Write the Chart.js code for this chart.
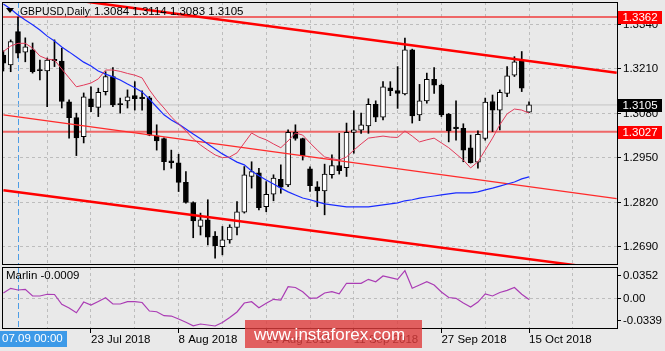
<!DOCTYPE html>
<html>
<head>
<meta charset="utf-8">
<script src="https://cdn.jsdelivr.net/npm/chart.js@4.4.0/dist/chart.umd.min.js"></script>
<style>
    html, body { margin: 0; padding: 0; background: #e9e9e9; }
    #wrap { position: relative; width: 665px; height: 351px; overflow: hidden; background: #e9e9e9; }
    #pricechart { position: absolute; left: 0; top: 0; }
    #marlinchart { position: absolute; left: 0; top: 266px; }
</style>
</head>
<body>
<div id="wrap">
    <canvas id="pricechart" width="665" height="266"></canvas>
    <canvas id="marlinchart" width="665" height="85"></canvas>
</div>
<script>
// GBPUSD daily, 5 Jul 2018 .. 15 Oct 2018 (bar 0 .. 72)
const opens = [1.3251,1.3222,1.3319,1.3259,1.3266,1.3208,1.3204,1.3238,1.3233,1.3114,
    1.3068,1.3012,1.3123,1.3098,1.3144,1.3188,1.3108,1.3117,1.3132,1.3128,
    1.3126,1.3015,1.3007,1.2942,1.2936,1.2879,1.2820,1.2750,1.2769,1.2722,
    1.2691,1.2711,1.2747,1.2792,1.2896,1.2907,1.2808,1.2844,1.2888,1.2871,
    1.3025,1.3007,1.2918,1.2866,1.2854,1.2901,1.2928,1.2922,1.3025,1.3031,
    1.3044,1.3107,1.3069,1.3155,1.3147,1.3137,1.3266,1.3076,1.3117,1.3180,
    1.3163,1.3078,1.3040,1.3037,1.2980,1.2938,1.3007,1.3115,1.3090,1.3139,
    1.3192,1.3233,1.3084];
const highs = [1.3263,1.3295,1.3362,1.3301,1.3286,1.3236,1.3242,1.3295,1.3271,1.3120,
    1.3081,1.3140,1.3158,1.3154,1.3202,1.3214,1.3125,1.3149,1.3173,1.3146,
    1.3130,1.3047,1.3009,1.2973,1.2961,1.2910,1.2822,1.2789,1.2828,1.2735,
    1.2750,1.2755,1.2823,1.2925,1.2939,1.2920,1.2881,1.2901,1.2930,1.3032,
    1.3047,1.3008,1.2924,1.2881,1.2932,1.2959,1.3022,1.3052,1.3088,1.3081,
    1.3123,1.3117,1.3173,1.3173,1.3217,1.3300,1.3268,1.3165,1.3198,1.3214,
    1.3166,1.3080,1.3117,1.3050,1.3017,1.3029,1.3125,1.3134,1.3149,1.3217,
    1.3246,1.3261,1.3114];
const lows = [1.3204,1.3202,1.3242,1.3231,1.3198,1.3178,1.3100,1.3217,1.3096,1.3008,
    1.2957,1.2994,1.3085,1.3071,1.3134,1.3100,1.3081,1.3096,1.3090,1.3090,
    1.3015,1.2973,1.2915,1.2920,1.2852,1.2818,1.2717,1.2725,1.2696,1.2657,
    1.2667,1.2701,1.2725,1.2789,1.2862,1.2798,1.2793,1.2825,1.2847,1.2866,
    1.3002,1.2944,1.2852,1.2808,1.2784,1.2891,1.2903,1.2896,1.2964,1.3022,
    1.3022,1.3056,1.3061,1.3132,1.3095,1.3134,1.3052,1.3059,1.3110,1.3139,
    1.3071,1.2997,1.3002,1.2939,1.2935,1.2920,1.3002,1.3027,1.3032,1.3129,
    1.3188,1.3144,1.3083];
const closes = [1.3227,1.3290,1.3256,1.3275,1.3202,1.3205,1.3236,1.3234,1.3115,1.3068,
    1.3009,1.3129,1.3100,1.3142,1.3188,1.3105,1.3106,1.3129,1.3123,1.3123,
    1.3017,1.3000,1.2939,1.2936,1.2879,1.2820,1.2766,1.2769,1.2719,1.2694,
    1.2711,1.2748,1.2793,1.2901,1.2910,1.2805,1.2844,1.2891,1.2865,1.3025,
    1.3007,1.2957,1.2869,1.2854,1.2903,1.2928,1.2913,1.3025,1.3032,1.3047,
    1.3107,1.3069,1.3158,1.3147,1.3139,1.3266,1.3073,1.3117,1.3180,1.3163,
    1.3076,1.3029,1.3036,1.2973,1.2936,1.3019,1.3113,1.3090,1.3142,1.3190,
    1.3231,1.3154,1.3105];
const fastMA = [1.3261,1.3277,1.3285,1.3285,1.3271,1.3248,1.3239,1.3236,1.3210,1.3184,
    1.3158,1.3163,1.3169,1.3181,1.3207,1.3207,1.3203,1.3197,1.3192,1.3184,
    1.3149,1.3120,1.3096,1.3070,1.3049,1.3029,1.3006,1.2988,1.2973,1.2959,
    1.2951,1.2953,1.2965,1.2994,1.3023,1.3011,1.3003,1.2991,1.2980,1.3000,
    1.3023,1.3017,1.2994,1.2973,1.2953,1.2948,1.2944,1.2953,1.2973,1.2991,
    1.3008,1.3011,1.3014,1.3011,1.3010,1.3029,1.3014,1.2997,1.3003,1.3008,
    1.2994,1.2980,1.2962,1.2944,1.2921,1.2939,1.2973,1.3008,1.3047,1.3079,
    1.3093,1.3090,1.3081];
const slowMA = [1.3400,1.3385,1.3368,1.3353,1.3339,1.3324,1.3306,1.3292,1.3274,1.3260,
    1.3245,1.3230,1.3219,1.3204,1.3195,1.3187,1.3178,1.3166,1.3155,1.3143,
    1.3122,1.3099,1.3076,1.3061,1.3049,1.3035,1.3020,1.3006,1.2991,1.2976,
    1.2962,1.2950,1.2938,1.2930,1.2912,1.2898,1.2886,1.2874,1.2862,1.2851,
    1.2842,1.2833,1.2828,1.2822,1.2816,1.2813,1.2810,1.2807,1.2807,1.2807,
    1.2807,1.2810,1.2813,1.2816,1.2819,1.2825,1.2828,1.2833,1.2836,1.2839,
    1.2842,1.2845,1.2848,1.2848,1.2848,1.2851,1.2857,1.2862,1.2868,1.2874,
    1.2880,1.2889,1.2895];
const marlin = [0.0091,0.0163,0.0137,0.0147,0.0045,0.0045,0.0071,0.0068,-0.0083,-0.0140,
    -0.0212,-0.0048,-0.0094,-0.0040,0.0017,-0.0078,-0.0078,-0.0043,-0.0043,-0.0055,
    -0.0186,-0.0197,-0.0258,-0.0263,-0.0309,-0.0359,-0.0412,-0.0385,-0.0401,-0.0416,
    -0.0362,-0.0286,-0.0201,-0.0063,-0.0043,-0.0135,-0.0068,-0.0006,-0.0017,0.0187,
    0.0175,0.0111,0.0009,0.0017,0.0091,0.0111,0.0078,0.0240,0.0240,0.0240,
    0.0301,0.0264,0.0352,0.0326,0.0301,0.0433,0.0163,0.0213,0.0264,0.0213,
    0.0106,0.0021,0.0009,-0.0063,-0.0124,-0.0048,0.0078,0.0045,0.0098,0.0132,
    0.0175,0.0071,-0.0009];

const dateTicks = [12, 24, 36, 48, 60, 72];
const dateLabels = ['23 Jul 2018', '8 Aug 2018', '24 Aug 2018', '11 Sep 2018', '27 Sep 2018', '15 Oct 2018'];
const gridBars = [6, 12, 18, 24, 30, 36, 42, 48, 54, 60, 66, 72, 78];
const priceTicks = [1.3340, 1.3210, 1.3080, 1.2950, 1.2820, 1.2690];
const marlinTicks = [0.0352, 0, -0.0339];

const levelPrices = [1.3362, 1.3027];
const lastPrice = 1.3105;
const trendX = [0, 84];
const upperTrend = [1.3439, 1.3199];
const middleTrend = [1.3076, 1.2831];
const lowerTrend = [1.2856, 1.2621];

const cursorBar = 2;
const cursorLabel = '07.09 00:00';
const headerName = 'GBPUSD,Daily';
const headerPrices = '1.3084 1.3114 1.3083 1.3105';
const marlinTitle = 'Marlin -0.0009';

const xMin = -0.19;
const xMax = 84.05;
const gridColor = '#bdbdbd';
const fontFamily = 'Liberation Sans, Arial, sans-serif';

Chart.defaults.font.family = fontFamily;
Chart.defaults.font.size = 11.5;
Chart.defaults.color = '#000';
Chart.defaults.animation = false;
Chart.defaults.plugins.legend.display = false;
Chart.defaults.plugins.tooltip.enabled = false;

function pointsOf(values) {
    return values.map((v, i) => ({x: i, y: v}));
}
function flatLine(price) {
    return [{x: xMin, y: price}, {x: xMax, y: price}];
}
function trendLine(ends) {
    return [{x: trendX[0], y: ends[0]}, {x: trendX[1], y: ends[1]}];
}
function lineSet(data, color, width, order) {
    return {type: 'line', data: data, borderColor: color, borderWidth: width,
        pointRadius: 0, fill: false, tension: 0, order: order};
}

function drawCursor(chart) {
    const ctx = chart.ctx;
    const area = chart.chartArea;
    const x = Math.round(chart.scales.x.getPixelForValue(cursorBar)) + 0.5;
    ctx.save();
    ctx.strokeStyle = '#4d9de6';
    ctx.lineWidth = 1;
    ctx.setLineDash([6, 3]);
    ctx.beginPath();
    ctx.moveTo(x, area.top);
    ctx.lineTo(x, area.bottom);
    ctx.stroke();
    ctx.restore();
}
function drawFrame(chart) {
    const ctx = chart.ctx;
    const a = chart.chartArea;
    ctx.save();
    ctx.strokeStyle = '#000';
    ctx.lineWidth = 1;
    ctx.strokeRect(Math.round(a.left) + 0.5, Math.round(a.top) + 0.5,
        Math.round(a.right - a.left), Math.round(a.bottom - a.top) - 1);
    ctx.restore();
}
function priceBox(chart, price, color) {
    const ctx = chart.ctx;
    const y = chart.scales.y.getPixelForValue(price);
    const left = chart.chartArea.right + 1;
    ctx.fillStyle = color;
    ctx.fillRect(left, Math.round(y) - 6, 44, 13);
    ctx.fillStyle = '#fff';
    ctx.textAlign = 'center';
    ctx.textBaseline = 'middle';
    ctx.fillText(price.toFixed(4), left + 22, Math.round(y) + 1);
}

const priceDecor = {
    id: 'priceDecor',
    beforeDatasetsDraw(chart) {
        drawCursor(chart);
    },
    afterDraw(chart) {
        const ctx = chart.ctx;
        drawFrame(chart);
        ctx.save();
        ctx.font = '11.5px ' + fontFamily;
        priceBox(chart, levelPrices[0], '#ff0000');
        priceBox(chart, lastPrice, '#000000');
        priceBox(chart, levelPrices[1], '#ff0000');
        // header
        ctx.fillStyle = '#000';
        ctx.beginPath();
        ctx.moveTo(6, 8);
        ctx.lineTo(14, 8);
        ctx.lineTo(10, 13);
        ctx.closePath();
        ctx.fill();
        ctx.textAlign = 'left';
        ctx.textBaseline = 'middle';
        ctx.fillText(headerName, 20, 12, 70);
        ctx.fillText(headerPrices, 94, 12, 150);
        ctx.restore();
    }
};

const marlinDecor = {
    id: 'marlinDecor',
    beforeDatasetsDraw(chart) {
        drawCursor(chart);
    },
    afterDraw(chart) {
        const ctx = chart.ctx;
        drawFrame(chart);
        ctx.save();
        ctx.font = '11.5px ' + fontFamily;
        ctx.textBaseline = 'middle';
        ctx.textAlign = 'left';
        ctx.fillStyle = '#000';
        ctx.fillText(marlinTitle, 6, 10);
        // crosshair date
        ctx.fillStyle = '#3d9ae8';
        ctx.fillRect(0, 65, 67, 16);
        ctx.fillStyle = '#fff';
        ctx.fillText(cursorLabel, 2, 73);
        // watermark
        ctx.fillStyle = 'rgba(222, 60, 60, 0.8)';
        ctx.fillRect(245, 54, 177, 28);
        ctx.fillStyle = '#fff';
        ctx.font = '17px ' + fontFamily;
        ctx.fillText('www.instaforex.com', 254, 69);
        ctx.restore();
    }
};

const candleWicks = {
    type: 'bar',
    data: highs.map((h, i) => ({x: i, y: [lows[i], h]})),
    backgroundColor: '#000',
    barThickness: 1,
    grouped: false,
    order: 6
};
const candleBodies = {
    type: 'bar',
    data: opens.map((o, i) => ({x: i, y: [o, closes[i]]})),
    backgroundColor: ctx => closes[ctx.dataIndex] >= opens[ctx.dataIndex] ? '#fff' : '#000',
    borderColor: '#000',
    borderWidth: 1,
    borderSkipped: false,
    barThickness: 5,
    minBarLength: 1,
    grouped: false,
    order: 5
};

const priceconfig = {
    type: 'bar',
    data: {
        datasets: [
            candleWicks,
            candleBodies,
            lineSet(flatLine(levelPrices[0]), 'rgba(240, 70, 70, 0.8)', 2, 8),
            lineSet(flatLine(levelPrices[1]), 'rgba(240, 70, 70, 0.8)', 2, 8),
            lineSet(flatLine(lastPrice), '#c4c4c4', 1, 9),
            lineSet(trendLine(upperTrend), '#ff0000', 2.5, 3),
            lineSet(trendLine(middleTrend), '#ff2a2a', 1.3, 3),
            lineSet(trendLine(lowerTrend), '#ff0000', 2.5, 3),
            lineSet(pointsOf(slowMA), '#1a2cff', 1.2, 2),
            lineSet(pointsOf(fastMA), '#e23a5a', 1, 1)
        ]
    },
    options: {
        responsive: false,
        layout: {autoPadding: false, padding: {left: 2, top: 2, right: 0, bottom: 1}},
        scales: {
            x: {
                type: 'linear', min: xMin, max: xMax, offset: false,
                afterBuildTicks: s => { s.ticks = gridBars.map(v => ({value: v})); },
                afterFit: s => { s.height = 0; s.paddingLeft = 0; s.paddingRight = 0; },
                ticks: {display: false},
                grid: {color: gridColor, drawTicks: false, offset: false},
                border: {display: false, dash: [3, 3]}
            },
            y: {
                type: 'linear', position: 'right', min: 1.26374, max: 1.34057,
                afterBuildTicks: s => { s.ticks = priceTicks.map(v => ({value: v})); },
                afterFit: s => { s.width = 48; s.paddingTop = 0; s.paddingBottom = 0; },
                ticks: {padding: 2, callback: v => v.toFixed(4)},
                grid: {color: gridColor, tickColor: '#000', tickLength: 4},
                border: {display: false, dash: [3, 3]}
            }
        }
    },
    plugins: [priceDecor]
};

const marlinconfig = {
    type: 'line',
    data: {
        datasets: [
            lineSet(pointsOf(marlin), '#aa3cb4', 1.2, 1)
        ]
    },
    options: {
        responsive: false,
        layout: {autoPadding: false, padding: {left: 2, top: 1, right: 0, bottom: 0}},
        scales: {
            x: {
                type: 'linear', min: xMin, max: xMax, offset: false,
                afterBuildTicks: s => { s.ticks = gridBars.map(v => ({value: v})); },
                afterFit: s => { s.height = 22; s.paddingLeft = 0; s.paddingRight = 0; },
                ticks: {
                    autoSkip: false, maxRotation: 0, minRotation: 0, align: 'start', padding: 0,
                    callback: v => {
                        const k = dateTicks.indexOf(v);
                        return k >= 0 ? dateLabels[k] : '';
                    }
                },
                grid: {
                    color: gridColor, tickLength: 4,
                    tickColor: ctx => dateTicks.includes(ctx.tick && ctx.tick.value) ? '#000' : 'rgba(0,0,0,0)'
                },
                border: {display: false, dash: [3, 3]}
            },
            y: {
                type: 'linear', position: 'right', min: -0.0462, max: 0.0490,
                afterBuildTicks: s => { s.ticks = marlinTicks.map(v => ({value: v})); },
                afterFit: s => { s.width = 48; s.paddingTop = 0; s.paddingBottom = 0; },
                ticks: {padding: 2, callback: v => v === 0 ? '0.00' : v.toFixed(4)},
                grid: {
                    color: ctx => ctx.tick && ctx.tick.value === 0 ? gridColor : 'rgba(0,0,0,0)',
                    tickColor: '#000', tickLength: 4
                },
                border: {display: false, dash: [3, 3]}
            }
        }
    },
    plugins: [marlinDecor]
};

new Chart(document.getElementById('pricechart'), priceconfig);
new Chart(document.getElementById('marlinchart'), marlinconfig);
</script>
</body>
</html>
